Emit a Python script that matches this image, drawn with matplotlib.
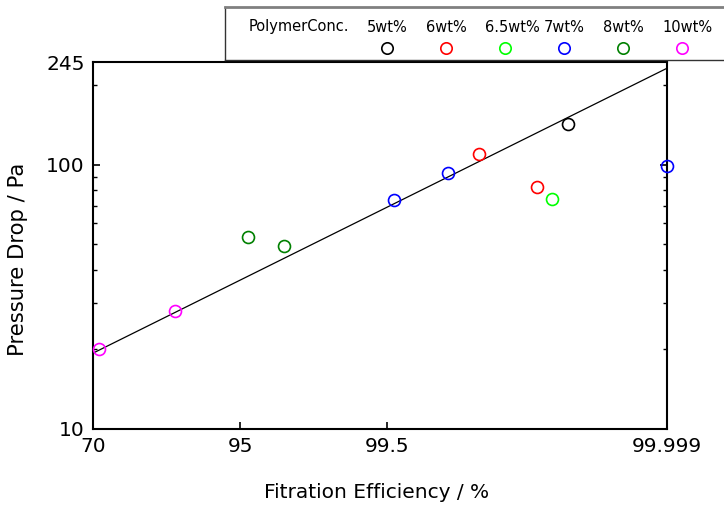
import numpy as np
import matplotlib
matplotlib.use("Agg")
import matplotlib.pyplot as plt
from matplotlib.ticker import FixedLocator, FixedFormatter, NullLocator, NullFormatter

plt.rcParams['font.family'] = ['DejaVu Sans']

# ---- data ----
series_names = ["5wt%", "6wt%", "6.5wt%", "7wt%", "8wt%", "10wt%"]
series_colors = ["#000000", "#ff0000", "#00ff00", "#0000ff", "#008000", "#ff00ff"]

eff_5 = [99.9909]
dp_5 = [142.7]
eff_6 = [99.9346, 99.9819]
dp_6 = [110.1, 82.3]
eff_65 = [99.9870]
dp_65 = [74.1]
eff_7 = [99.566, 99.8695, 99.999]
dp_7 = [73.2, 93.0, 99.1]
eff_8 = [95.56, 97.47]
dp_8 = [53.0, 49.0]
eff_10 = [72.2, 88.9]
dp_10 = [20.0, 28.0]

fit_eff = [70.0, 99.999]
fit_dp = [19.3, 232.0]

x_ticks = [70, 95, 99.5, 99.999]
x_tick_labels = ["70", "95", "99.5", "99.999"]
y_ticks = [10, 100, 245]
y_tick_labels = ["10", "100", "245"]
y_minor = [20, 30, 40, 50, 60, 70, 80, 90, 200]

# ---- custom efficiency scale (piecewise in log-penetration) ----
scale_pos = [0.0, 1.0, 2.0, 3.9]
L_ticks = -np.log10(1 - np.array(x_ticks) / 100.0)


def fwd(e):
    e = np.asarray(e, dtype=float)
    p = np.clip(1 - e / 100.0, 1e-12, 1.0)
    L = -np.log10(p)
    return np.where(L < L_ticks[0],
                    scale_pos[0] + (L - L_ticks[0]) * (scale_pos[1] - scale_pos[0]) / (L_ticks[1] - L_ticks[0]),
                    np.where(L > L_ticks[-1],
                             scale_pos[-1] + (L - L_ticks[-1]) * (scale_pos[-1] - scale_pos[-2]) / (L_ticks[-1] - L_ticks[-2]),
                             np.interp(L, L_ticks, scale_pos)))


def inv(u):
    u = np.asarray(u, dtype=float)
    L = np.where(u < scale_pos[0],
                 L_ticks[0] + (u - scale_pos[0]) * (L_ticks[1] - L_ticks[0]) / (scale_pos[1] - scale_pos[0]),
                 np.where(u > scale_pos[-1],
                          L_ticks[-1] + (u - scale_pos[-1]) * (L_ticks[-1] - L_ticks[-2]) / (scale_pos[-1] - scale_pos[-2]),
                          np.interp(u, scale_pos, L_ticks)))
    return 100.0 * (1 - 10 ** (-L))


fig = plt.figure(figsize=(7.24, 5.08), dpi=100)
W, H = 724.0, 508.0
ax = fig.add_axes([93 / W, 1 - 428.5 / H, (667 - 93) / W, (428.5 - 62) / H])
ax.set_xscale('function', functions=(fwd, inv))
ax.set_yscale('log')
ax.set_xlim(70, 99.999)
ax.set_ylim(10, 245)

ax.plot(fit_eff, fit_dp, color='black', lw=0.9, zorder=2)

all_eff = [eff_5, eff_6, eff_65, eff_7, eff_8, eff_10]
all_dp = [dp_5, dp_6, dp_65, dp_7, dp_8, dp_10]
for e, d, c in zip(all_eff, all_dp, series_colors):
    ax.plot(e, d, linestyle='none', marker='o', markersize=8.6, markerfacecolor='none',
            markeredgecolor=c, markeredgewidth=1.2, clip_on=False, zorder=3)

ax.xaxis.set_major_locator(FixedLocator(x_ticks))
ax.xaxis.set_major_formatter(FixedFormatter(x_tick_labels))
ax.xaxis.set_minor_locator(NullLocator())
ax.yaxis.set_major_locator(FixedLocator(y_ticks))
ax.yaxis.set_major_formatter(FixedFormatter(y_tick_labels))
ax.yaxis.set_minor_locator(FixedLocator(y_minor))
ax.yaxis.set_minor_formatter(NullFormatter())

ax.tick_params(axis='both', which='major', direction='in', length=5, width=1.2,
               labelsize=14.5, pad=6)
ax.tick_params(axis='y', which='both', right=True)
ax.tick_params(axis='y', which='minor', direction='in', length=3, width=1.0)
ax.tick_params(axis='x', which='both', top=False)
for s in ax.spines.values():
    s.set_linewidth(1.5)

ax.set_xlabel("Fitration Efficiency / %", fontsize=14.5)
ax.set_ylabel("Pressure Drop / Pa", fontsize=15.2)
ax.xaxis.set_label_coords(0.494, -0.149)
ax.xaxis.label.set_va('top')
ax.yaxis.set_label_coords(-0.113, 0.4625)

# ---- legend box ----
lax = fig.add_axes([225 / W, 1 - 60 / H, (740 - 225) / W, (60 - 7) / H])
lax.set_xlim(225, 740)
lax.set_ylim(60, 7)
lax.set_xticks([])
lax.set_yticks([])
lax.patch.set_alpha(0)
lax.spines['right'].set_visible(False)
lax.spines['top'].set_color('#808080')
lax.spines['top'].set_linewidth(2)
lax.spines['left'].set_color('#333333')
lax.spines['left'].set_linewidth(1)
lax.spines['bottom'].set_color('#333333')
lax.spines['bottom'].set_linewidth(1)

lax.text(249, 27, "PolymerConc.", fontsize=10.5, ha='left', va='center')
leg_x = [387, 446, 505, 564, 623, 682]
for x, name, c in zip(leg_x, series_names, series_colors):
    lax.text(x - 20, 27, name, fontsize=10.5, ha='left', va='center')
    lax.plot([x], [48], marker='o', markersize=8.2, markerfacecolor='none',
             markeredgecolor=c, markeredgewidth=1.2, linestyle='none')

fig.savefig("out.png", dpi=100)
